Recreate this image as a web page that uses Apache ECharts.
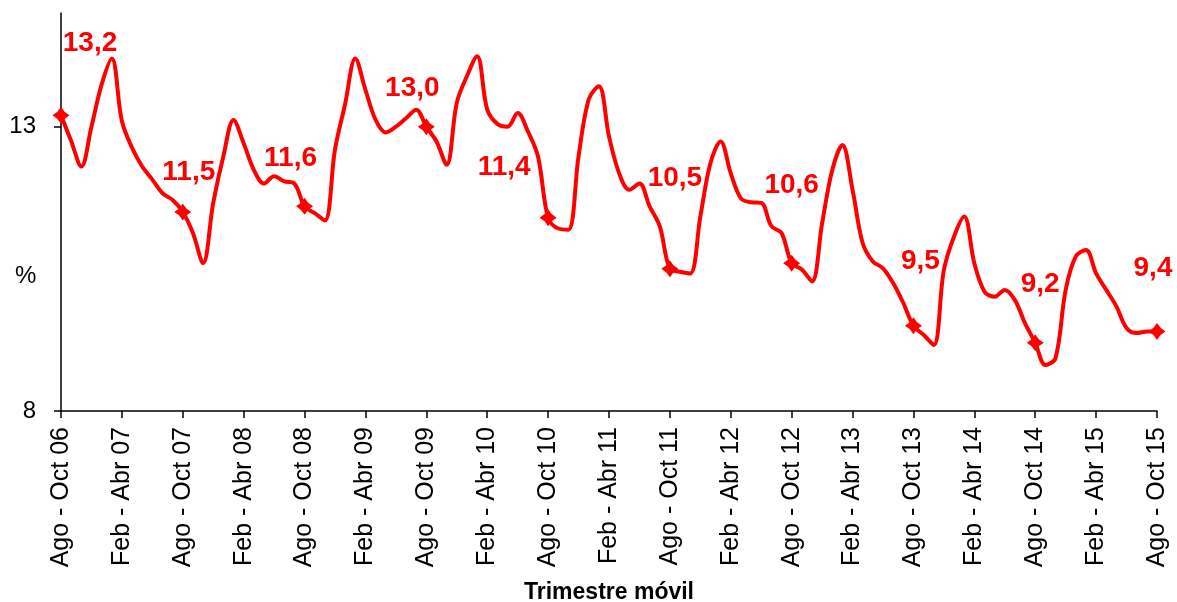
<!DOCTYPE html>
<html>
<head>
<meta charset="utf-8">
<script src="https://cdn.jsdelivr.net/npm/echarts@6/dist/echarts.min.js"></script>
<style>
html,body{margin:0;padding:0;background:#fff;}
#chart{width:1177px;height:602px;}
</style>
</head>
<body>
<div id="chart"></div>
<script>
// Spanish month abbreviations used to build the rolling-quarter category labels
const monthNames = ['Ene','Feb','Mar','Abr','May','Jun','Jul','Ago','Sep','Oct','Nov','Dic'];
const firstStartMonth = 7;   // Ago
const firstYear = 2006;
const pointCount = 109;      // Ago-Oct 06 ... Ago-Oct 15

// Tasa (%) - trimestre móvil
const values = [
  13.2, 12.75, 12.3, 13.0, 13.74, 14.2, 13.1, 12.63, 12.3, 12.07, 11.83, 11.71,
  11.5, 11.13, 10.6, 11.66, 12.48, 13.12, 12.71, 12.24, 12.0, 12.13, 12.04, 12.0,
  11.6, 11.48, 11.35, 12.6, 13.4, 14.2, 13.65, 13.12, 12.9, 13.0, 13.15, 13.3,
  13.0, 12.74, 12.33, 13.42, 13.89, 14.24, 13.3, 13.05, 13.0, 13.24, 12.92, 12.48,
  11.4, 11.21, 11.19, 12.48, 13.48, 13.71, 12.83, 12.18, 11.89, 12.0, 11.6, 11.25,
  10.5, 10.45, 10.42, 11.42, 12.36, 12.74, 12.18, 11.74, 11.67, 11.66, 11.25, 11.13,
  10.6, 10.49, 10.28, 11.3, 12.24, 12.68, 11.89, 10.95, 10.63, 10.51, 10.25, 9.9,
  9.5, 9.34, 9.16, 10.48, 11.07, 11.42, 10.6, 10.1, 10.01, 10.13, 9.95, 9.54,
  9.2, 8.81, 8.93, 10.13, 10.72, 10.83, 10.42, 10.13, 9.84, 9.46, 9.37, 9.4,
  9.4
];

// y-axis tick labels
const yTicks = [8, 13];

// label placement (style only), one per highlighted Ago-Oct point
const labelOffsets = [
  [29, -72], [6, -40], [-14, -48], [-14, -38], [-44, -50],
  [5, -91], [0, -78], [7, -64], [5, -58], [-4, -63]
];

const categories = [];
for (let i = 0; i < pointCount; i++) {
  const s = (firstStartMonth + i) % 12;
  const eAbs = firstStartMonth + i + 2;
  const e = eAbs % 12;
  const yr = firstYear + Math.floor(eAbs / 12);
  categories.push(monthNames[s] + ' - ' + monthNames[e] + ' ' + String(yr % 100).padStart(2, '0'));
}

const starPath = 'path://M0,-10 L4.2,-4.2 L10,0 L4.2,4.2 L0,10 L-4.2,4.2 L-10,0 L-4.2,-4.2 Z';

const seriesData = values.map((v, i) => {
  if (i % 12 === 0) {
    return {
      value: v,
      symbol: starPath,
      symbolSize: 17,
      label: { show: true, position: 'inside', offset: labelOffsets[i / 12] }
    };
  }
  return { value: v, symbol: 'none' };
});

const FONT = '"Liberation Sans", Arial, sans-serif';
const chart = echarts.init(document.getElementById('chart'), null, { renderer: 'canvas' });
chart.setOption({
  animation: false,
  backgroundColor: '#ffffff',
  textStyle: { fontFamily: FONT },
  grid: { left: 61, right: 20, top: 13, bottom: 191, containLabel: false, outerBoundsMode: 'none' },
  xAxis: {
    type: 'category',
    data: categories,
    boundaryGap: false,
    name: 'Trimestre móvil',
    nameLocation: 'middle',
    nameGap: 170,
    nameTextStyle: { fontFamily: FONT, fontSize: 23, fontWeight: 'bold', color: '#000' },
    axisLine: { show: true, lineStyle: { color: '#000', width: 1.5 } },
    axisTick: { show: true, interval: 5, length: 7, lineStyle: { color: '#000', width: 1.5 } },
    axisLabel: { interval: 5, rotate: 90, fontSize: 25, color: '#000', margin: 16, fontFamily: FONT },
    splitLine: { show: false }
  },
  yAxis: {
    type: 'value',
    min: 8,
    max: 15,
    interval: 5,
    axisLine: { show: true, lineStyle: { color: '#000', width: 1.5 } },
    axisTick: { show: true, length: 7, customValues: yTicks, lineStyle: { color: '#000', width: 1.5 } },
    axisLabel: { customValues: yTicks, fontSize: 24, color: '#000', margin: 25, fontFamily: FONT },
    splitLine: { show: false }
  },
  graphic: [{
    type: 'text',
    left: 15,
    top: 264,
    style: { text: '%', font: '24px "Liberation Sans", Arial, sans-serif', fill: '#000' }
  }],
  series: [{
    type: 'line',
    data: seriesData,
    smooth: 0.35,
    showSymbol: true,
    lineStyle: { color: '#ff0000', width: 4 },
    itemStyle: { color: '#ff0000' },
    label: {
      color: '#ff0000',
      fontSize: 28,
      fontWeight: 'bold',
      fontFamily: FONT,
      formatter: p => p.value.toFixed(1).replace('.', ',')
    },
    z: 3
  }]
});
</script>
</body>
</html>
